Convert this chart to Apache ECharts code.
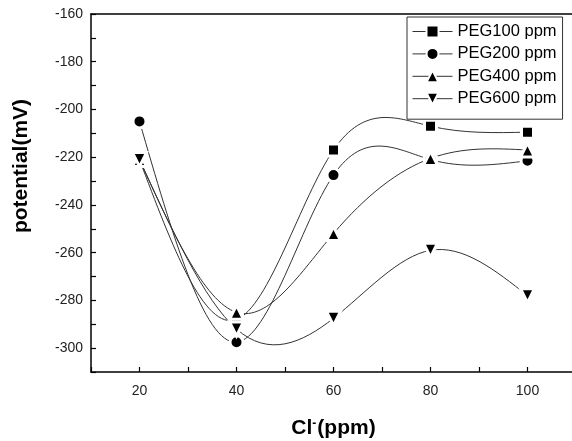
<!DOCTYPE html>
<html>
<head>
<meta charset="utf-8">
<title>potential vs Cl-</title>
<script src="https://cdn.jsdelivr.net/npm/echarts@6/dist/echarts.min.js"></script>
<style>
    html, body { margin: 0; padding: 0; background: #fff; }
    #main { width: 572px; height: 441px; }
</style>
</head>
<body>
<div id="main"></div>
<script>
// 数据
var clValues = [ 20, 40, 60, 80, 100 ];
var peg100 = [ -221, -288, -217, -207, -209.5 ];
var peg200 = [ -205, -297.5, -227.5, -221, -221.5 ];
var peg400 = [ -221, -285, -252, -220.5, -217 ];
var peg600 = [ -221, -292, -287.5, -259, -278 ];

var xMajor = [ 20, 40, 60, 80, 100 ];
var yMajor = [ -300, -280, -260, -240, -220, -200, -180, -160 ];

function pairs(ys) {
    var out = [];
    for (var i = 0; i < clValues.length; i++) {
        out.push([ clValues[i], ys[i] ]);
    }
    return out;
}

var font = 'Arial, "Liberation Sans", sans-serif';

// 自然三次样条 -> 每段一个贝塞尔曲线 (same as Origin's spline connect)
function splinePath(xs, ys, api) {
    var n = xs.length;
    var h = [], M = [], i;
    for (i = 0; i < n - 1; i++) h.push(xs[i + 1] - xs[i]);
    // tridiagonal solve, M[0] = M[n-1] = 0
    var a = [], b = [], c = [], d = [];
    for (i = 1; i < n - 1; i++) {
        a.push(h[i - 1]);
        b.push(2 * (h[i - 1] + h[i]));
        c.push(h[i]);
        d.push(6 * ((ys[i + 1] - ys[i]) / h[i] - (ys[i] - ys[i - 1]) / h[i - 1]));
    }
    var m = b.length;
    for (i = 1; i < m; i++) {
        var w = a[i] / b[i - 1];
        b[i] -= w * c[i - 1];
        d[i] -= w * d[i - 1];
    }
    var inner = new Array(m);
    for (i = m - 1; i >= 0; i--) {
        inner[i] = (d[i] - (i < m - 1 ? c[i] * inner[i + 1] : 0)) / b[i];
    }
    M.push(0);
    for (i = 0; i < m; i++) M.push(inner[i]);
    M.push(0);

    var p0 = api.coord([ xs[0], ys[0] ]);
    var path = 'M' + p0[0] + ',' + p0[1];
    for (i = 0; i < n - 1; i++) {
        var hi = h[i];
        var s = (ys[i + 1] - ys[i]) / hi;
        var d0 = s - hi * (2 * M[i] + M[i + 1]) / 6;
        var d1 = s + hi * (M[i] + 2 * M[i + 1]) / 6;
        var c1 = api.coord([ xs[i] + hi / 3, ys[i] + d0 * hi / 3 ]);
        var c2 = api.coord([ xs[i + 1] - hi / 3, ys[i + 1] - d1 * hi / 3 ]);
        var p1 = api.coord([ xs[i + 1], ys[i + 1] ]);
        path += 'C' + c1[0] + ',' + c1[1] + ' ' + c2[0] + ',' + c2[1] + ' ' + p1[0] + ',' + p1[1];
    }
    return path;
}

function curveSeries(name, data) {
    return {
        name : name + ' curve',
        type : 'custom',
        data : pairs(data),
        silent : true,
        z : 2,
        renderItem : function(params, api) {
            if (params.dataIndex !== 0) return null;
            return {
                type : 'path',
                shape : { pathData : splinePath(clValues, data, api) },
                style : { fill : 'none', stroke : '#333', lineWidth : 1 }
            };
        }
    };
}

function markSeries(name, data, symbol, size, rotate) {
    return {
        name : name,
        type : 'line',
        data : pairs(data),
        z : 3,
        symbol : symbol,
        symbolSize : size,
        symbolRotate : rotate || 0,
        lineStyle : { opacity : 0 },
        itemStyle : {
            color : '#000',
            borderColor : '#fff',
            borderWidth : 3
        },
        emphasis : { disabled : true }
    };
}

var myChart = echarts.init(document.getElementById('main'), null, { renderer : 'canvas' });

var option = {
    animation : false,
    backgroundColor : '#fff',
    textStyle : { fontFamily : font },
    grid : {
        left : 91,
        top : 14,
        right : -4,
        bottom : 69,
        containLabel : false,
        outerBoundsMode : 'none'
    },
    legend : {
        orient : 'vertical',
        left : 407,
        top : 17,
        padding : [ 6, 6, 12, 5 ],
        borderColor : '#333',
        borderWidth : 1,
        itemWidth : 40,
        itemHeight : 15,
        itemGap : 5.4,
        lineStyle : { color : '#333', width : 1, opacity : 1 },
        textStyle : {
            fontFamily : font,
            fontSize : 16.5,
            color : '#000',
            lineHeight : 17
        },
        data : [ 'PEG100 ppm', 'PEG200 ppm', 'PEG400 ppm', 'PEG600 ppm' ]
    },
    xAxis : [ {
        type : 'value',
        min : 10,
        max : 110,
        interval : 10,
        position : 'bottom',
        name : '{a|Cl}{b|-}{a|(ppm)}',
        nameLocation : 'middle',
        nameGap : 46,
        nameTextStyle : {
            rich : {
                a : { fontFamily : font, fontSize : 21, fontWeight : 'bold', color : '#000' },
                b : { fontFamily : font, fontSize : 12, fontWeight : 'bold', color : '#000', verticalAlign : 'top', padding : [ 0, 1, 0, 0 ] }
            }
        },
        axisLine : { lineStyle : { color : '#000', width : 1.5 } },
        axisTick : {
            inside : true,
            length : 5,
            lineStyle : { color : '#000', width : 1.2 }
        },
        axisLabel : {
            customValues : xMajor,
            margin : 12,
            fontFamily : font,
            fontSize : 14,
            color : '#222'
        },
        splitLine : { show : false }
    }, {
        // 上边框
        type : 'value',
        min : 10,
        max : 110,
        position : 'top',
        axisLine : { lineStyle : { color : '#000', width : 1.5 } },
        axisTick : { show : false },
        axisLabel : { show : false },
        splitLine : { show : false }
    } ],
    yAxis : [ {
        type : 'value',
        min : -310,
        max : -160,
        interval : 10,
        position : 'left',
        name : 'potential(mV)',
        nameLocation : 'middle',
        nameGap : 59,
        nameTextStyle : {
            fontFamily : font,
            fontSize : 21,
            fontWeight : 'bold',
            color : '#000',
            padding : [ 0, 0, 0, 54 ]
        },
        axisLine : { lineStyle : { color : '#000', width : 1.5 } },
        axisTick : {
            inside : true,
            length : 5,
            lineStyle : { color : '#000', width : 1.2 }
        },
        axisLabel : {
            customValues : yMajor,
            margin : 8,
            fontFamily : font,
            fontSize : 14,
            color : '#222'
        },
        splitLine : { show : false }
    } ],
    series : [
        curveSeries('PEG100 ppm', peg100),
        curveSeries('PEG200 ppm', peg200),
        curveSeries('PEG400 ppm', peg400),
        curveSeries('PEG600 ppm', peg600),
        markSeries('PEG100 ppm', peg100, 'rect', 12),
        markSeries('PEG200 ppm', peg200, 'circle', 13),
        markSeries('PEG400 ppm', peg400, 'triangle', 14),
        markSeries('PEG600 ppm', peg600, 'triangle', 14, 180)
    ]
};

myChart.setOption(option);
</script>
</body>
</html>
